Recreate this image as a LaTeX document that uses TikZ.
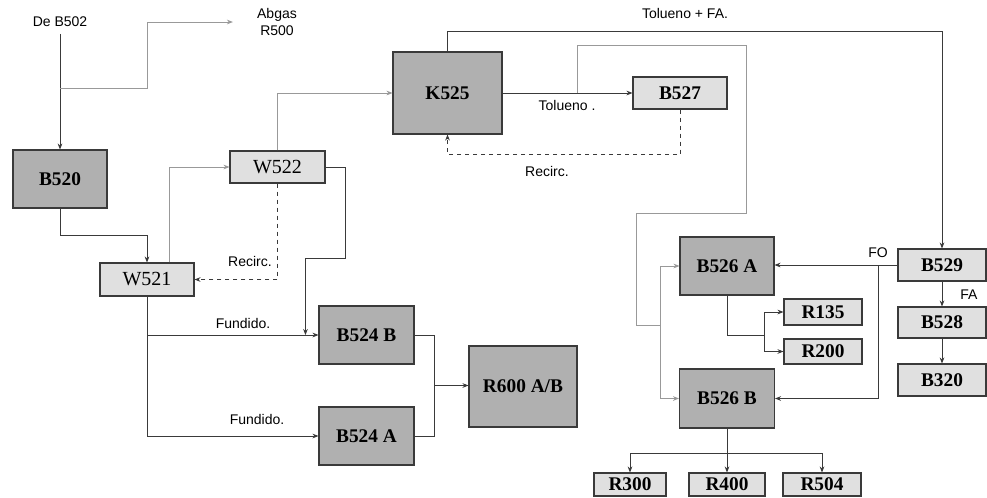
\documentclass[tikz,border=0pt]{standalone}
\usepackage{fontspec}
\setmainfont{Liberation Serif}
\setsansfont{Liberation Sans}
\usepackage{xcolor}
\usetikzlibrary{positioning, arrows.meta, calc}
\definecolor{boxdark}{HTML}{B0B0B0}
\definecolor{boxlight}{HTML}{E0E0E0}
\definecolor{linedark}{HTML}{3A3A3A}
\definecolor{linelight}{HTML}{999999}

\begin{document}
\begin{tikzpicture}[
        x=0.75pt, y=-0.75pt,
        box/.style={draw=linedark, rectangle, line width=0.8pt, inner sep=0pt, align=center, font=\fontsize{14.5}{16}\selectfont\bfseries},
        sz/.style 2 args={minimum width=#1*0.75pt, minimum height=#2*0.75pt},
        dbox/.style={box, fill=boxdark},
        lbox/.style={box, fill=boxlight},
        wbox/.style={box, fill=boxlight, font=\fontsize{15}{17}\selectfont},
        lab/.style={inner sep=0pt, align=center, font=\sffamily\fontsize{10.5}{12.5}\selectfont},
        arr/.style={-{Stealth[length=4.5pt, width=3.5pt]}, draw=linedark, line width=0.6pt},
        arrg/.style={arr, draw=linelight},
        ln/.style={draw=linedark, line width=0.6pt},
        lng/.style={ln, draw=linelight},
        rec/.style={arr, dashed}
    ]
    \useasboundingbox (0,0) rectangle (987,497);

    % Left part
    \node[dbox, sz={94}{58}] (b520) at (60,179) {B520};
    \node[wbox, sz={95}{32}] (w522) at (277.5,167) {W522};
    \node[wbox, sz={94}{33}] (w521) at (147,279.5) {W521};
    \node[dbox, sz={95}{58}] (b524b) at (366.5,335) {B524 B};
    \node[dbox, sz={95}{58}] (b524a) at (366.5,436) {B524 A};
    \node[dbox, sz={108}{81}] (r600) at (523,386.5) {R600 A/B};

    % Column K525
    \node[dbox, sz={109}{82}] (k525) at (447.5,93) {K525};
    \node[lbox, sz={94}{32}] (b527) at (680,93) {B527};

    % Right part
    \node[dbox, sz={94}{58}] (b526a) at (727,266) {B526 A};
    \node[dbox, sz={95}{59}] (b526b) at (727,398.5) {B526 B};
    \node[lbox, sz={78}{26}] (r135) at (823,312) {R135};
    \node[lbox, sz={78}{25}] (r200) at (823,351.5) {R200};
    \node[lbox, sz={88}{32}] (b529) at (942,265) {B529};
    \node[lbox, sz={88}{31}] (b528) at (942,322.5) {B528};
    \node[lbox, sz={88}{32}] (b320) at (942,380) {B320};
    \node[lbox, sz={72}{23}] (r300) at (630,484.5) {R300};
    \node[lbox, sz={76}{23}] (r400) at (727,484.5) {R400};
    \node[lbox, sz={78}{23}] (r504) at (822,484.5) {R504};

    % Labels
    \node[lab] (deb502) at (60,22) {De B502};
    \node[lab] (abgas) at (277,22) {Abgas\\R500};
    \node[lab] (tolfa) at (685,13) {Tolueno + FA.};
    \node[lab] (tol) at (567,105) {Tolueno .};
    \node[lab] (rec1) at (547,171) {Recirc.};
    \node[lab] (rec2) at (250,261) {Recirc.};
    \node[lab] (fun1) at (243,323) {Fundido.};
    \node[lab] (fun2) at (257,419) {Fundido.};
    \node[lab] (fo) at (878,253) {FO};
    \node[lab] (fa) at (969,295) {FA};

    % Feed and off-gas
    \coordinate (jab) at (60,88);
    \draw[arr] ([yshift=-5pt]deb502.south) -- (b520.north);
    \draw[arrg] (jab) -| (147,22) -- ([xshift=-18pt]abgas.west);

    % B520 - W521 - W522 - K525
    \draw[arr] (b520.south) -- ++(0,27) -| (w521.north);
    \draw[arrg] ([xshift=17pt]w521.north) |- (w522.west);
    \draw[arrg] (w522.north) |- (k525.west);
    \draw[rec] (w522.south) |- (w521.east);
    \draw[arr] (w522.east) -- ++(20,0) -- ++(0,91) -| ([xshift=-9.75pt]b524b.west);

    % Fundido to B524
    \coordinate (jw) at (w521.south |- b524b.west);
    \draw[arr] (w521.south) -- (jw) -- (b524b.west);
    \draw[arr] (jw) |- (b524a.west);
    \draw[ln] (b524b.east) -- ++(20,0) |- (b524a.east);
    \coordinate (jr) at ($(b524b.east)!0.5!(b524a.east)+(20,0)$);
    \draw[arr] (jr) -- (jr -| r600.west);

    % K525 - B527
    \draw[arr] (k525.east) -- (b527.west);
    \draw[rec] (b527.south) -- ++(0,45) -| (k525.south);
    \coordinate (jt) at (577,93);
    \coordinate (jk) at (660,325);
    \draw[lng] (jt) |- (746,45) |- (636,213) |- (jk);
    \draw[arrg] (jk) |- (b526a.west);
    \draw[arrg] (jk) |- (b526b.west);

    % K525 - B529
    \draw[arr] (k525.north) -- ++(0,-20) -| (b529.north);
    \draw[arr] (b529.west) -- (b529.west -| b526a.east);
    \coordinate (jo) at (878,265);
    \draw[arr] (jo) |- (b526b.east);
    \draw[arr] (b529.south) -- (b528.north);
    \draw[arr] (b528.south) -- (b320.north);

    % B526 outlets
    \draw[ln] (b526a.south) |- (764,335) coordinate (jp);
    \draw[arr] (jp) |- (r135.west);
    \draw[arr] (jp) |- (r200.west);
    \draw[arr] (b526b.south) -- (r400.north);
    \draw[arr] (b526b.south) -- ++(0,25) -| (r300.north);
    \draw[arr] (b526b.south) -- ++(0,25) -| (r504.north);

\end{tikzpicture}
\end{document}
